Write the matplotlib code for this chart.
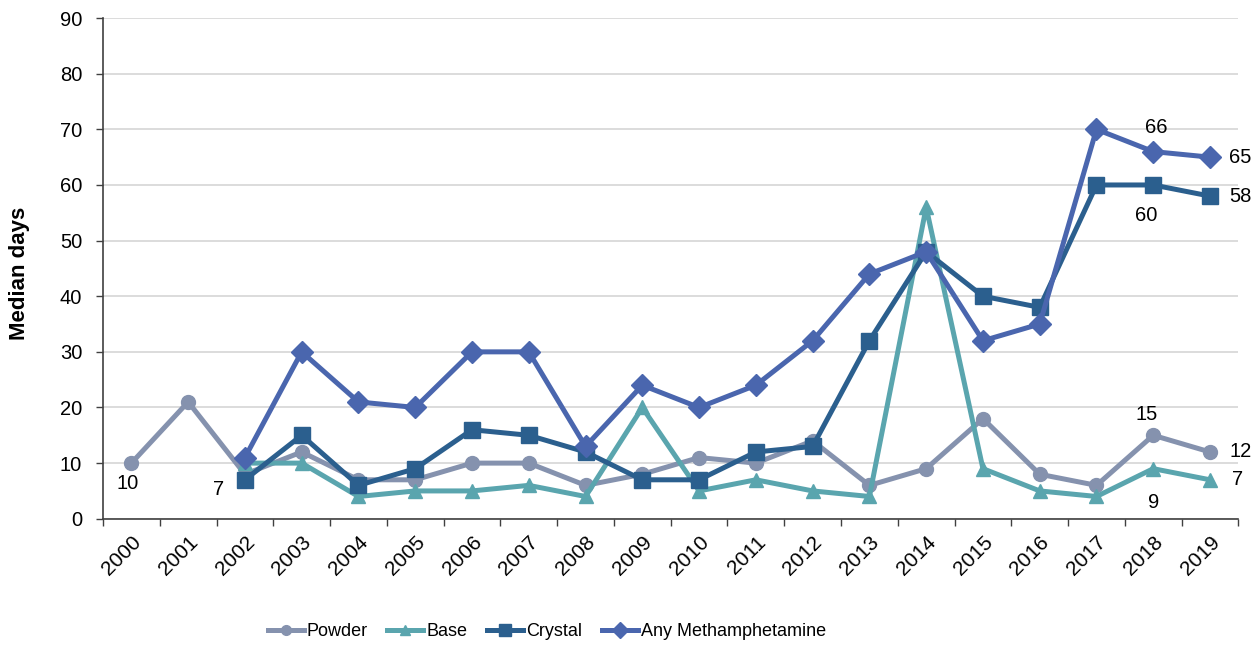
import numpy as np
import matplotlib
matplotlib.use('Agg')
import matplotlib.pyplot as plt

plt.rcParams['font.family'] = ['Liberation Sans', 'DejaVu Sans']

# 数据：年份与四个系列的中位天数
years = [str(y) for y in range(2000, 2020)]
powder = [10, 21, 8, 12, 7, 7, 10, 10, 6, 8, 11, 10, 14, 6, 9, 18, 8, 6, 15, 12]
base = [None, None, 10, 10, 4, 5, 5, 6, 4, 20, 5, 7, 5, 4, 56, 9, 5, 4, 9, 7]
crystal = [None, None, 7, 15, 6, 9, 16, 15, 12, 7, 7, 12, 13, 32, 48, 40, 38, 60, 60, 58]
any_meth = [None, None, 11, 30, 21, 20, 30, 30, 13, 24, 20, 24, 32, 44, 48, 32, 35, 70, 66, 65]

# 数据标签：(系列, 年份索引, 偏移)
labels = [
    (powder, 0, (-3, -15)),
    (crystal, 2, (-19, -7)),
    (any_meth, 18, (2, 17)),
    (any_meth, 19, (22, 0)),
    (crystal, 19, (22, 0)),
    (crystal, 18, (-5, -22)),
    (powder, 18, (-5, 15)),
    (powder, 19, (22, 0)),
    (base, 18, (0, -24)),
    (base, 19, (20, 0)),
]

def arr(v):
    return np.array([np.nan if x is None else x for x in v], dtype=float)

x = np.arange(len(years))
fig = plt.figure(figsize=(12.56, 6.46), dpi=100)
ax = fig.add_axes([0.082, 0.197, 0.904, 0.775])

ax.plot(x, arr(powder), color='#8592AE', lw=3.6, marker='o', ms=10, label='Powder')
ax.plot(x, arr(base), color='#5AA5AE', lw=3.6, marker='^', ms=10, label='Base')
ax.plot(x, arr(crystal), color='#2B5F8E', lw=3.6, marker='s', ms=12, label='Crystal')
ax.plot(x, arr(any_meth), color='#4A66AE', lw=3.6, marker='D', ms=11, label='Any Methamphetamine')

for series, i, off in labels:
    ax.annotate(str(series[i]), (x[i], series[i]), xytext=off, textcoords='offset points',
                ha='center', va='center', fontsize=14.5)

ax.set_xlim(-0.5, len(years) - 0.5)
ax.set_ylim(0, 90)
ax.set_yticks(range(0, 91, 10))
ax.set_xticks(x)
ax.set_xticklabels(years, rotation=45, ha='right', rotation_mode='anchor', fontsize=15)
ax.set_xticks(np.arange(-0.5, len(years), 1), minor=True)
ax.tick_params(axis='x', which='major', length=0, pad=10)
ax.tick_params(axis='x', which='minor', length=5, width=1, color='#404040')
ax.tick_params(axis='y', length=5, width=1, color='#404040', labelsize=14.5, pad=10)
ax.set_ylabel('Median days', fontsize=16, fontweight='bold')
ax.yaxis.set_label_coords(-0.064, 0.49)

ax.yaxis.grid(True, color='#D9D9D9', lw=1.3)
ax.set_axisbelow(True)
for s in ['top', 'right']:
    ax.spines[s].set_visible(False)
for s in ['left', 'bottom']:
    ax.spines[s].set_color('#404040')
    ax.spines[s].set_linewidth(1.2)

fig.legend(loc='center left', bbox_to_anchor=(0.213, 0.022), ncol=4, frameon=False,
           fontsize=13, handlelength=2.0, columnspacing=1.1,
           handletextpad=0.15, markerscale=0.7, borderpad=0, borderaxespad=0)

fig.savefig('out.png', dpi=100)
